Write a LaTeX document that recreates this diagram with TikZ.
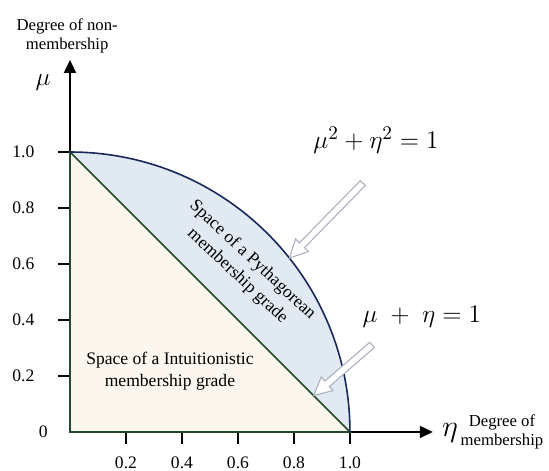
\documentclass[tikz,border=0pt]{standalone}
\usepackage{fontspec}
\setmainfont{Liberation Serif}
\usetikzlibrary{arrows.meta,calc}
\definecolor{intfill}{HTML}{FBF6EE}
\definecolor{pytfill}{HTML}{E1EAF3}
\definecolor{intline}{HTML}{234A2C}
\definecolor{pytline}{HTML}{18275A}
\definecolor{hollowline}{HTML}{A9AFBD}
\tikzset{
axis/.style={
-{Triangle[length=2.6mm,width=2.4mm]},
line width=1.1pt
},
tickmark/.style={
line width=1.1pt
},
ticklab/.style={
font=\fontsize{10}{12}\selectfont
},
region/.style={
align=center,
font=\fontsize{10}{12.5}\selectfont
},
axistitle/.style={
align=center,
font=\fontsize{9.5}{11}\selectfont
},
eq/.style={
font=\fontsize{15}{18}\selectfont
},
hollow/.style={
draw=hollowline,
fill=white,
line width=0.6pt
}
}
\newcommand\hollowarrow[2]{%
\coordinate (hb) at ($(#2)!0.36cm!(#1)$);
\draw[hollow] ($(#1)!0.07cm!90:(#2)$) -- ($(hb)!0.07cm!-90:(#1)$) -- ($(hb)!0.18cm!-90:(#1)$) -- (#2) -- ($(hb)!0.18cm!90:(#1)$) -- ($(hb)!0.07cm!90:(#1)$) -- ($(#1)!0.07cm!-90:(#2)$) -- cycle;}

\begin{document}
\begin{tikzpicture}[x=5.6cm,y=5.6cm]
\useasboundingbox (-0.25,-0.139) rectangle (1.711,1.543);
\coordinate (O) at (0,0);
\coordinate (X) at (1,0);
\coordinate (Y) at (0,1);
\coordinate (xtip) at (1.296,0);
\coordinate (ytip) at (0,1.329);

\fill[pytfill] (O) -- (X) arc[start angle=0,end angle=90,radius=1] -- cycle;
\fill[intfill] (O) -- (X) -- (Y) -- cycle;

\draw[axis] (O) -- (xtip);
\draw[axis] (O) -- (ytip);
\foreach \v/\n in {0.2/a,0.4/b,0.6/c,0.8/d,1.0/e}{
\draw[tickmark] (\v,0) -- (\v,-0.043);
\node[ticklab] (x\n) at (\v,-0.111) {\v};
\draw[tickmark] (0,\v) -- (-0.043,\v);
\node[ticklab,anchor=east] (y\n) at (-0.105,\v) {\v};
}
\node[ticklab,anchor=east] (y0) at (-0.058,0) {0};

\draw[intline,line width=0.9pt] (O) -- (X) -- (Y) -- cycle;
\draw[pytline,line width=0.9pt] (Y) arc[start angle=90,end angle=0,radius=1];

\node[region,rotate=-43] (pyt) at (0.625,0.585) {Space of a Pythagorean\\membership grade};
\node[region] (int) at (0.357,0.218) {Space of a Intuitionistic\\membership grade};

\node[eq] (eqpyt) at (1.093,1.043) {$\mu^2+\eta^2=1$};
\node[eq] (eqint) at (1.257,0.411) {$\mu\;+\;\eta=1$};
\coordinate (pyttail) at (1.046,0.889);
\coordinate (pyttip) at (38.4:1);
\coordinate (inttail) at (1.079,0.311);
\coordinate (inttip) at (0.87,0.13);
\hollowarrow{pyttail}{pyttip}
\hollowarrow{inttail}{inttip}

\node[axistitle] (ytitle) at (-0.01,1.414) {Degree of non-\\membership};
\node[font=\fontsize{14}{14}\selectfont] (mu) at (-0.096,1.25) {$\mu$};
\node[font=\fontsize{17}{17}\selectfont] (eta) at (1.357,-0.005) {$\eta$};
\node[axistitle] (xtitle) at (1.543,0) {Degree of\\membership};
\end{tikzpicture}
\end{document}
